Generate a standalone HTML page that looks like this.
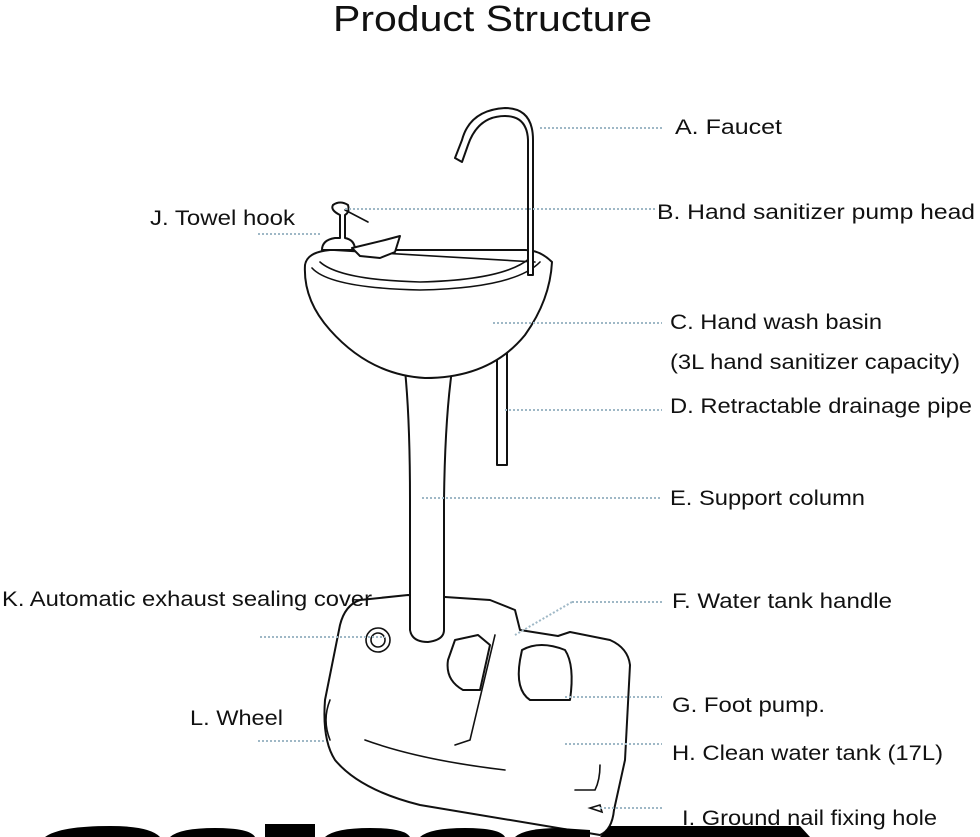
<!DOCTYPE html>
<html><head><meta charset="utf-8"><style>
html,body{margin:0;padding:0;background:#fff;}
svg{display:block;}
text{font-family:"Liberation Sans",sans-serif;fill:#111;}
.l{font-size:21px;}
.d{stroke:#9fb8c6;stroke-width:2;stroke-dasharray:2 2;fill:none;}
.k{stroke:#111;stroke-width:2;fill:#fff;stroke-linejoin:round;stroke-linecap:round;}
.kn{stroke:#111;stroke-width:1.6;fill:none;stroke-linecap:round;}
</style></head><body>
<svg width="980" height="837" viewBox="0 0 980 837" xmlns="http://www.w3.org/2000/svg">
<text x="333" y="31" font-size="36" textLength="319" lengthAdjust="spacingAndGlyphs">Product Structure</text>

<!-- tank -->
<path class="k" d="M360 600 Q345 605 340 625 L325 700 Q322 740 335 760 Q360 790 420 805 L600 835 Q612 830 614 810 L625 760 L630 665 Q628 648 610 640 L570 632 L558 636 L520 630 L515 610 L490 600 L445 597 L408 595 Z"/>
<path class="kn" d="M330 700 Q322 720 330 740"/>
<path class="kn" d="M365 740 Q420 760 505 770"/>
<path class="kn" d="M495 635 L470 740 L455 745"/>
<path class="kn" d="M600 765 Q600 780 595 790 L575 790"/>
<path class="kn" d="M590 808 L600 805 L602 812 Z"/>
<circle cx="378" cy="640" r="12" class="kn"/>
<circle cx="378" cy="640" r="7" class="kn"/>
<path class="k" d="M455 640 L478 635 L490 645 L480 690 L463 690 Q445 680 448 660 Z"/>
<path class="k" d="M522 650 Q540 640 565 650 Q575 665 570 700 L530 700 Q515 690 520 660 Z"/>
<!-- column -->
<path class="k" d="M405 370 Q410 420 410 500 L410 630 Q412 642 428 642 Q444 640 444 630 L444 500 Q445 420 452 370 Z"/>
<!-- drain pipe -->
<rect x="497" y="340" width="10" height="125" class="k"/>
<!-- basin -->
<path class="k" d="M305 265 Q303 300 330 330 Q370 375 425 378 Q490 378 525 335 Q550 300 552 262 Q540 250 525 250 L330 250 Q307 252 305 265 Z"/>
<path class="kn" d="M312 268 Q330 288 420 290 Q515 288 540 262"/>
<path class="kn" d="M320 262 Q340 280 420 282 Q505 280 530 258"/>
<path class="kn" d="M330 250 L535 262"/>
<!-- pump -->
<path class="k" d="M322 250 Q322 240 335 238 L340 238 L340 215 Q330 210 333 205 Q340 200 348 205 Q350 212 345 215 L345 238 Q355 240 355 250 Z"/>
<path class="kn" d="M345 210 L368 222"/>
<path class="k" d="M352 248 L385 240 L400 236 L395 252 L380 258 L360 256 Z"/>
<!-- faucet -->
<path class="k" d="M533 275 L533 140 Q533 108 505 108 Q470 110 462 140 L455 158 L462 162 L468 145 Q478 116 505 116 Q527 116 528 140 L528 275 Z"/>

<!-- dotted leaders -->
<path class="d" d="M540 128H662"/>
<path class="d" d="M345 209H655"/>
<path class="d" d="M258 234H320"/>
<path class="d" d="M493 323H662"/>
<path class="d" d="M505 410H662"/>
<path class="d" d="M422 498H662"/>
<path class="d" d="M572 602H662 M572 602L515 635"/>
<path class="d" d="M260 637H385"/>
<path class="d" d="M565 697H662"/>
<path class="d" d="M258 741H325"/>
<path class="d" d="M565 744H662"/>
<path class="d" d="M600 808H662"/>

<!-- labels -->
<text class="l" x="675" y="134" textLength="107" lengthAdjust="spacingAndGlyphs">A. Faucet</text>
<text class="l" x="657" y="219" textLength="318" lengthAdjust="spacingAndGlyphs">B. Hand sanitizer pump head</text>
<text class="l" x="150" y="225" textLength="145" lengthAdjust="spacingAndGlyphs">J. Towel hook</text>
<text class="l" x="670" y="329" textLength="212" lengthAdjust="spacingAndGlyphs">C. Hand wash basin</text>
<text class="l" x="670" y="369" textLength="290" lengthAdjust="spacingAndGlyphs">(3L hand sanitizer capacity)</text>
<text class="l" x="670" y="413" textLength="302" lengthAdjust="spacingAndGlyphs">D. Retractable drainage pipe</text>
<text class="l" x="670" y="505" textLength="195" lengthAdjust="spacingAndGlyphs">E. Support column</text>
<text class="l" x="2" y="606" textLength="370" lengthAdjust="spacingAndGlyphs">K. Automatic exhaust sealing cover</text>
<text class="l" x="672" y="608" textLength="220" lengthAdjust="spacingAndGlyphs">F. Water tank handle</text>
<text class="l" x="672" y="712" textLength="153" lengthAdjust="spacingAndGlyphs">G. Foot pump.</text>
<text class="l" x="190" y="725" textLength="93" lengthAdjust="spacingAndGlyphs">L. Wheel</text>
<text class="l" x="672" y="760" textLength="271" lengthAdjust="spacingAndGlyphs">H. Clean water tank (17L)</text>
<text class="l" x="682" y="825" textLength="255" lengthAdjust="spacingAndGlyphs">I. Ground nail fixing hole</text>

<!-- bottom black blobs -->
<g fill="#000">
<path d="M45 837 Q60 826 110 826 Q150 826 160 837 Z"/>
<path d="M170 837 Q180 828 215 828 Q250 828 255 837 Z"/>
<rect x="265" y="824" width="50" height="13"/>
<path d="M325 837 Q335 828 370 828 Q405 828 410 837 Z"/>
<path d="M420 837 Q430 828 465 828 Q500 828 505 837 Z"/>
<path d="M515 837 Q525 828 560 828 L590 830 L590 837 Z"/>
<path d="M600 837 L610 826 L800 826 L810 837 Z"/>
</g>
</svg>
</body></html>
